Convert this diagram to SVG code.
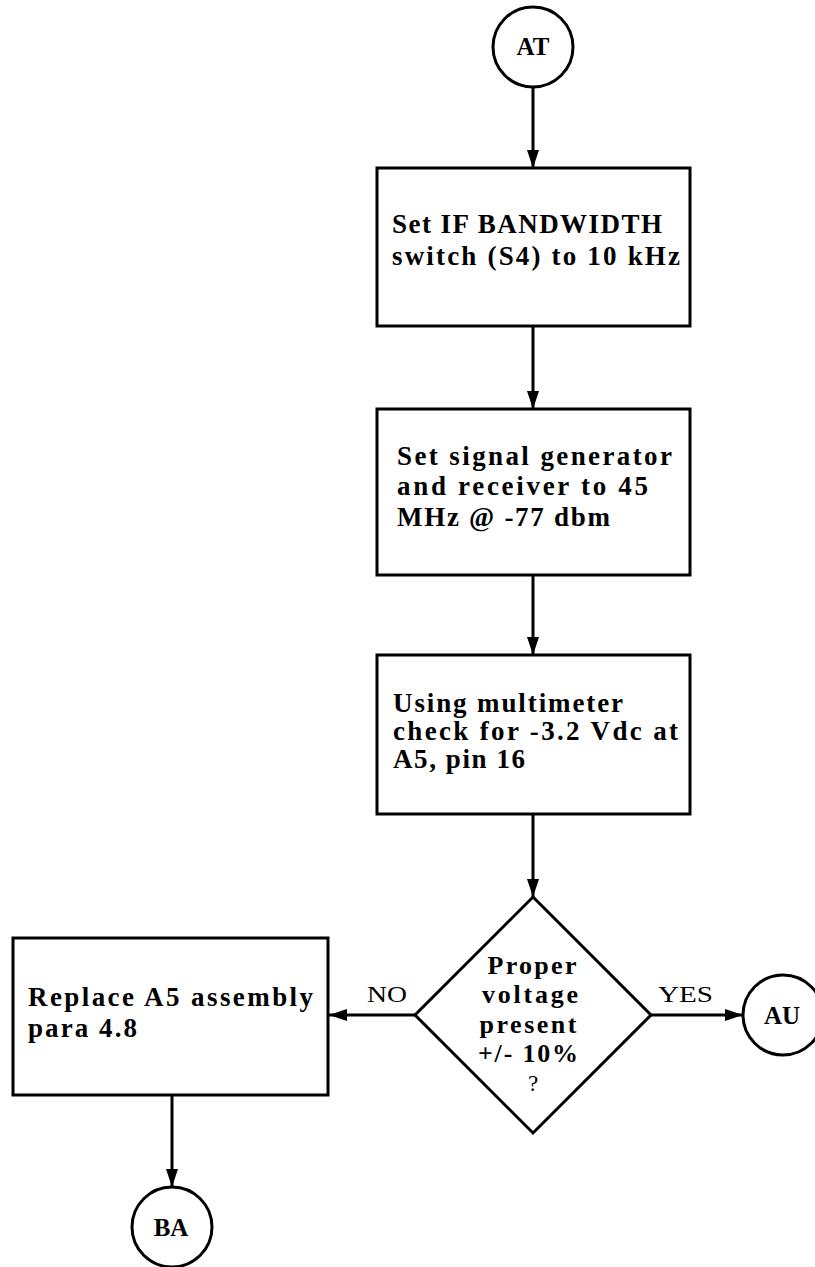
<svg xmlns="http://www.w3.org/2000/svg" width="815" height="1267" viewBox="0 0 815 1267">
<style>
.box{fill:#fff;stroke:#000;stroke-width:3}
.term{fill:#fff;stroke:#000;stroke-width:3}
.edge{fill:none;stroke:#000;stroke-width:3}
.t{font-family:"Liberation Serif","Times New Roman",serif;font-size:27px;font-weight:600;fill:#000}
.d{font-family:"Liberation Serif","Times New Roman",serif;font-size:26px;font-weight:600;fill:#000;text-anchor:middle}
.c{font-family:"Liberation Serif","Times New Roman",serif;font-size:25px;font-weight:700;fill:#000;text-anchor:middle}
.l{font-family:"Liberation Serif","Times New Roman",serif;font-size:23px;font-weight:400;fill:#000}
</style>
<defs>
<marker id="ah" markerUnits="userSpaceOnUse" markerWidth="18" markerHeight="12" refX="18" refY="6" orient="auto">
<path d="M0,0 L18,6 L0,12 z" fill="#000"/>
</marker>
</defs>
<rect width="815" height="1267" fill="#fff"/>
<g id="connectors">
<line class="edge" x1="533" y1="87" x2="533" y2="168" marker-end="url(#ah)"/>
<line class="edge" x1="533" y1="326" x2="533" y2="409" marker-end="url(#ah)"/>
<line class="edge" x1="533" y1="575" x2="533" y2="655" marker-end="url(#ah)"/>
<line class="edge" x1="533" y1="814" x2="533" y2="897" marker-end="url(#ah)"/>
<line class="edge" x1="415" y1="1015" x2="329" y2="1015" marker-end="url(#ah)"/>
<line class="edge" x1="651" y1="1015" x2="743" y2="1015" marker-end="url(#ah)"/>
<line class="edge" x1="172" y1="1095" x2="172" y2="1187" marker-end="url(#ah)"/>
<text class="l" x="367" y="1002" textLength="40" lengthAdjust="spacingAndGlyphs">NO</text>
<text class="l" x="658" y="1002" textLength="55" lengthAdjust="spacingAndGlyphs">YES</text>
</g>
<g id="AT">
<circle class="term" cx="533" cy="47" r="40"/>
<text class="c" x="533" y="55">AT</text>
</g>
<g id="set_bandwidth">
<rect class="box" x="377" y="168" width="313" height="158"/>
<text class="t" x="392" y="233" textLength="270" lengthAdjust="spacing">Set IF BANDWIDTH</text>
<text class="t" x="392" y="265" textLength="288" lengthAdjust="spacing">switch (S4) to 10 kHz</text>
</g>
<g id="set_generator">
<rect class="box" x="377" y="409" width="313" height="166"/>
<text class="t" x="397" y="465" textLength="275" lengthAdjust="spacing">Set signal generator</text>
<text class="t" x="397" y="495" textLength="251" lengthAdjust="spacing">and receiver to 45</text>
<text class="t" x="397" y="526" textLength="213" lengthAdjust="spacing">MHz @ -77 dbm</text>
</g>
<g id="check_voltage">
<rect class="box" x="377" y="655" width="313" height="159"/>
<text class="t" x="393" y="712" textLength="230" lengthAdjust="spacing">Using multimeter</text>
<text class="t" x="393" y="740" textLength="285" lengthAdjust="spacing">check for -3.2 Vdc at</text>
<text class="t" x="393" y="768" textLength="132" lengthAdjust="spacing">A5, pin 16</text>
</g>
<g id="decision">
<polygon class="box" points="533,897 651,1015 533,1133 415,1015"/>
<text class="d" x="532" y="974" textLength="89" lengthAdjust="spacing">Proper</text>
<text class="d" x="530" y="1003" textLength="96" lengthAdjust="spacing">voltage</text>
<text class="d" x="528" y="1033" textLength="97" lengthAdjust="spacing">present</text>
<text class="d" x="528" y="1062" textLength="100" lengthAdjust="spacing">+/- 10%</text>
<text class="l" x="533" y="1091" text-anchor="middle">?</text>
</g>
<g id="replace_a5">
<rect class="box" x="13" y="938" width="315" height="157"/>
<text class="t" x="28" y="1006" textLength="285" lengthAdjust="spacing">Replace A5 assembly</text>
<text class="t" x="28" y="1037" textLength="109" lengthAdjust="spacing">para 4.8</text>
</g>
<g id="AU">
<circle class="term" cx="783" cy="1015" r="40"/>
<text class="c" x="782" y="1024">AU</text>
</g>
<g id="BA">
<circle class="term" cx="172" cy="1227" r="40"/>
<text class="c" x="171" y="1236">BA</text>
</g>
</svg>
